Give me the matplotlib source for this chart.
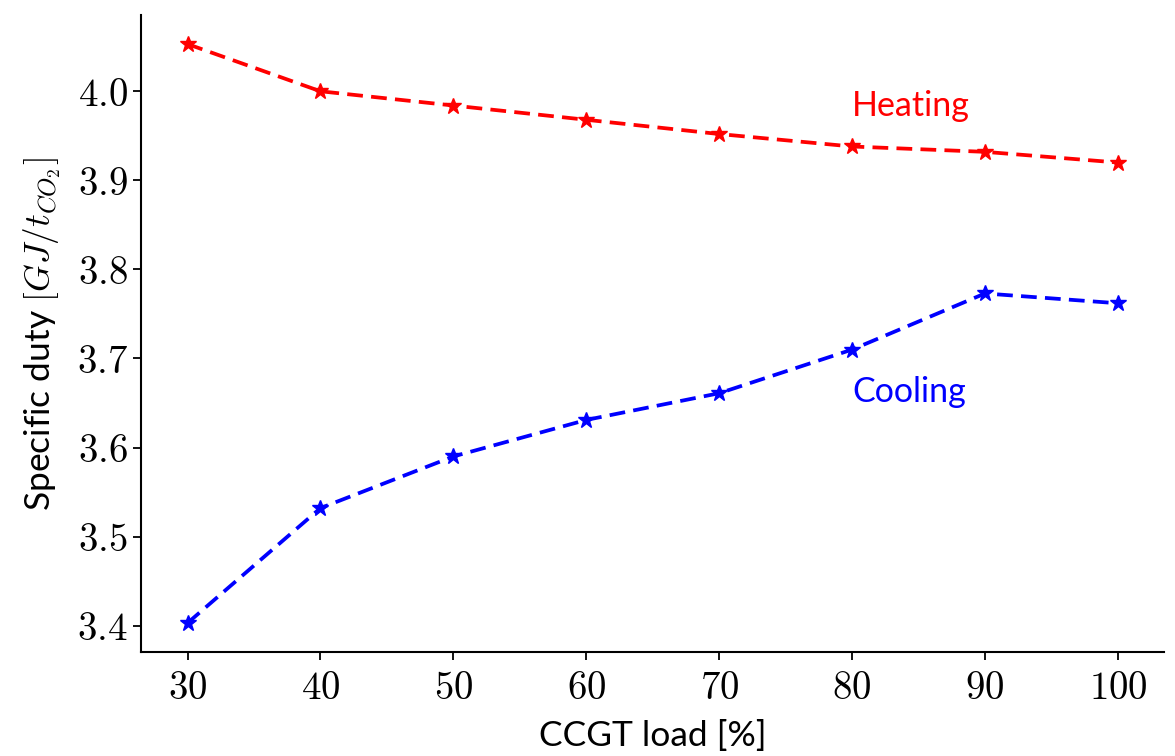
import numpy as np
import matplotlib
matplotlib.use("Agg")
import matplotlib.pyplot as plt
from matplotlib.ticker import FuncFormatter

# CCGT load levels [%]
load = [30, 40, 50, 60, 70, 80, 90, 100]

# specific duty [GJ/tCO2]
heating = [4.053, 4.000, 3.984, 3.968, 3.952, 3.938, 3.932, 3.920]
cooling = [3.403, 3.532, 3.590, 3.631, 3.661, 3.710, 3.773, 3.762]

plt.rcParams['mathtext.fontset'] = 'cm'
plt.rcParams['font.family'] = ['Lato', 'DejaVu Sans']

fig = plt.figure(figsize=(11.75, 7.56), dpi=100)
ax = fig.add_axes([0.12, 0.1376, 0.871, 0.8424])

ax.plot(load, heating, ls='--', marker='*', color='red', lw=2.7, markersize=12,
        dashes=(4.2, 2.2))
ax.plot(load, cooling, ls='--', marker='*', color='blue', lw=2.7, markersize=12,
        dashes=(4.2, 2.2))

ax.text(80, 3.984, "Heating", color='red', fontsize=24.5, va='center', ha='left')
ax.text(80, 3.662, "Cooling", color='blue', fontsize=24.5, va='center', ha='left')

ax.set_xticks(load)
ax.set_yticks(np.arange(3.4, 4.05, 0.1))
ax.xaxis.set_major_formatter(FuncFormatter(lambda v, p: r"$%d$" % v))
ax.yaxis.set_major_formatter(FuncFormatter(lambda v, p: r"$%.1f$" % v))
ax.tick_params(labelsize=28, width=1.3, length=6)
ax.tick_params(axis='x', pad=7)

ax.set_xlabel("CCGT load [%]", fontsize=25.5, labelpad=10)
ax.set_ylabel(r"Specific duty $[GJ/t_{CO_2}]$", fontsize=25.5, labelpad=10)

for s in ['top', 'right']:
    ax.spines[s].set_visible(False)
for s in ['left', 'bottom']:
    ax.spines[s].set_linewidth(1.5)

fig.savefig("out.png", dpi=100)
